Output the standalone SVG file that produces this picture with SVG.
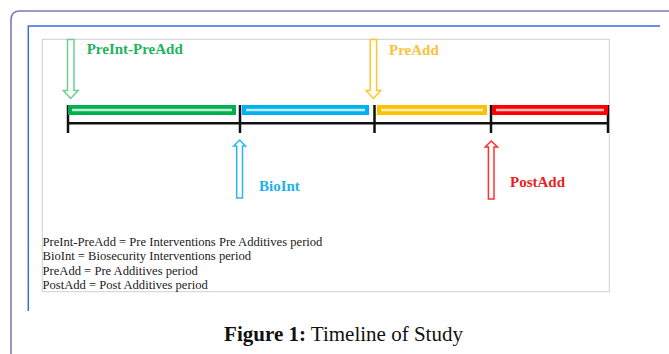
<svg xmlns="http://www.w3.org/2000/svg" width="669" height="354" viewBox="0 0 669 354">
<style>
.lbl{font-family:"Liberation Serif","Times New Roman",serif;font-weight:bold;font-size:15px}
.leg{font-family:"Liberation Serif","Times New Roman",serif;font-size:12.6px;fill:#222}
.cap{font-family:"Liberation Serif","Times New Roman",serif;font-size:21px;fill:#111}
.arrow{fill:#fff;stroke-width:1.5}
.hl{fill:none;stroke:#fff;stroke-opacity:0.75;stroke-width:2.5}
.axis{stroke:#111;stroke-width:2.5;fill:none}
</style>
<rect width="669" height="354" fill="#fff"/>
<g id="frames" fill="none">
<path d="M11,354 V20 Q11,11 20,11 H669" stroke="#7d7ab5" stroke-width="1.6"/>
<path d="M28.3,311 V26 H660" stroke="#3a6ed6" stroke-width="1.5"/>
<rect x="42.3" y="39.3" width="567" height="252.4" stroke="#cfcfcf" stroke-width="1"/>
</g>
<g id="connectors">
<path class="axis" d="M68,123.3 H608 M68,105 V133 M240,105 V133 M374.5,105 V133 M491,105 V133 M608,105 V133"/>
</g>
<g id="period-preint-preadd">
<rect x="68" y="105" width="168" height="10" fill="#00b050"/>
<line class="hl" x1="72" y1="110" x2="232" y2="110"/>
</g>
<g id="period-bioint">
<rect x="242" y="105" width="127" height="10" fill="#00b0f0"/>
<line class="hl" x1="246" y1="110" x2="365" y2="110"/>
</g>
<g id="period-preadd">
<rect x="377" y="105" width="110" height="10" fill="#ffc000"/>
<line class="hl" x1="381" y1="110" x2="483" y2="110"/>
</g>
<g id="period-postadd">
<rect x="492" y="105" width="116" height="10" fill="#ff0000"/>
<line class="hl" x1="496" y1="110" x2="604" y2="110"/>
</g>
<g id="marker-preint-preadd">
<polygon class="arrow" stroke="#6cd092" points="67.5,39.5 74,39.5 74,90.5 78.2,90.5 70.7,98.5 63.3,90.5 67.5,90.5"/>
<text class="lbl" x="86.7" y="54" fill="#1fb25f">PreInt-PreAdd</text>
</g>
<g id="marker-preadd">
<polygon class="arrow" stroke="#ffc828" points="370.2,39.5 376.6,39.5 376.6,90.5 380.8,90.5 373.4,98.5 366,90.5 370.2,90.5"/>
<text class="lbl" x="389" y="55" fill="#fdc13a">PreAdd</text>
</g>
<g id="marker-bioint">
<polygon class="arrow" stroke="#2cb6f0" points="236.7,198 242.5,198 242.5,146 245.5,146 239.6,140 233.7,146 236.7,146"/>
<text class="lbl" x="259" y="190.5" fill="#1db1ee">BioInt</text>
</g>
<g id="marker-postadd">
<polygon class="arrow" stroke="#ff3030" points="488.4,199 494,199 494,147 497.5,147 491.2,141 485.2,147 488.4,147"/>
<text class="lbl" x="510" y="187" fill="#ee1c1c">PostAdd</text>
</g>
<g id="legend">
<text class="leg" x="42.5" y="245.5">PreInt-PreAdd = Pre Interventions Pre Additives period</text>
<text class="leg" x="42.5" y="260">BioInt = Biosecurity Interventions period</text>
<text class="leg" x="42.5" y="274.5">PreAdd = Pre Additives period</text>
<text class="leg" x="42.5" y="289">PostAdd = Post Additives period</text>
</g>
<g id="caption">
<text class="cap" x="343.5" y="341" text-anchor="middle"><tspan font-weight="bold">Figure 1:</tspan> Timeline of Study</text>
</g>
</svg>
